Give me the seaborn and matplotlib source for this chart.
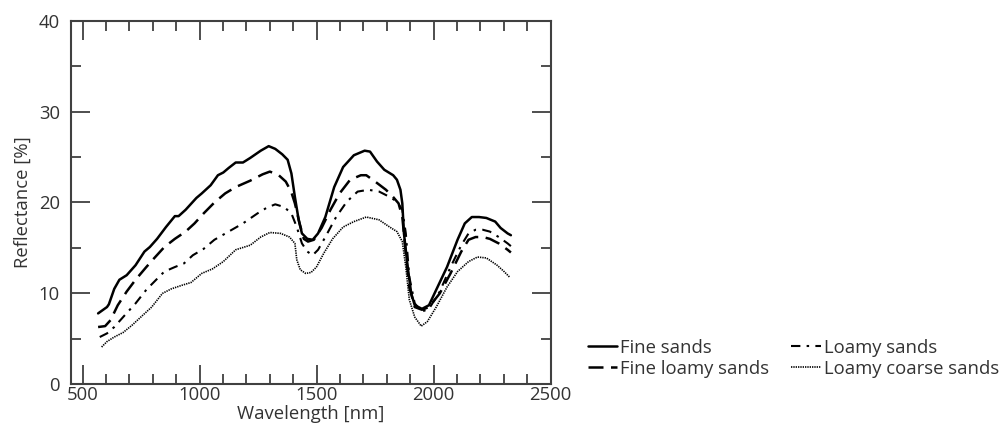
import numpy as np
import pandas as pd
import seaborn as sns
import matplotlib
matplotlib.use("Agg")
import matplotlib.pyplot as plt
from matplotlib.ticker import MultipleLocator

# Soil reflectance spectra, wavelength in nm, reflectance in %
fine_sands_wl = [566, 604, 612, 635, 657, 688, 726, 764, 787, 818, 856, 894, 910, 940,
                 986, 1009, 1047, 1078, 1101, 1124, 1154, 1185, 1216, 1261, 1295, 1323,
                 1353, 1376, 1392, 1407, 1423, 1437, 1460, 1483, 1506, 1537, 1575, 1613,
                 1659, 1705, 1728, 1758, 1789, 1827, 1843, 1858, 1866, 1873, 1889, 1904,
                 1919, 1950, 1980, 2011, 2057, 2102, 2133, 2163, 2194, 2225, 2263, 2286,
                 2316, 2330]
fine_sands = [7.8, 8.5, 8.8, 10.5, 11.5, 12.0, 13.1, 14.6, 15.1, 16.0, 17.3, 18.5, 18.5,
              19.2, 20.5, 21.0, 21.9, 23.0, 23.3, 23.8, 24.4, 24.4, 24.9, 25.7, 26.2,
              25.9, 25.3, 24.7, 23.2, 20.6, 18.1, 16.6, 16.0, 15.9, 16.6, 18.4, 21.7,
              23.9, 25.2, 25.7, 25.6, 24.5, 23.6, 23.0, 22.5, 21.4, 19.9, 16.6, 12.9,
              10.0, 8.7, 8.3, 8.7, 10.4, 12.9, 15.9, 17.7, 18.4, 18.4, 18.3, 17.9, 17.2,
              16.6, 16.4]

fine_loamy_wl = [566, 596, 619, 650, 688, 726, 772, 803, 849, 894, 940, 978, 1017, 1063,
                 1109, 1154, 1216, 1269, 1300, 1338, 1368, 1391, 1407, 1427, 1445, 1463,
                 1488, 1521, 1559, 1598, 1643, 1689, 1712, 1750, 1796, 1827, 1850, 1866,
                 1881, 1896, 1919, 1950, 1980, 2026, 2072, 2118, 2149, 2179, 2210, 2240,
                 2278, 2316, 2330]
fine_loamy_sands = [6.3, 6.4, 7.05, 8.7, 10.2, 11.5, 12.9, 13.8, 15.1, 16.0, 16.8, 17.7,
                    18.8, 20.0, 21.0, 21.7, 22.4, 23.1, 23.4, 23.0, 22.3, 21.2, 19.9, 17.7,
                    16.0, 15.7, 15.9, 17.2, 19.2, 21.0, 22.5, 23.0, 23.0, 22.3, 21.4, 20.6,
                    19.9, 18.4, 14.4, 10.7, 8.5, 8.2, 8.5, 10.0, 12.2, 14.6, 15.9, 16.2,
                    16.2, 16.0, 15.5, 14.8, 14.5]

loamy_wl = [573, 604, 635, 680, 726, 772, 818, 849, 894, 933, 971, 1017, 1063, 1124, 1185,
            1247, 1285, 1323, 1361, 1392, 1415, 1437, 1460, 1483, 1506, 1537, 1583, 1629,
            1675, 1721, 1767, 1813, 1843, 1866, 1881, 1896, 1919, 1950, 1980, 2026, 2072,
            2118, 2149, 2179, 2210, 2240, 2278, 2316, 2330]
loamy_sands = [5.2, 5.6, 6.3, 7.6, 8.9, 10.4, 11.6, 12.4, 12.9, 13.3, 14.2, 14.9, 15.9,
               16.8, 17.7, 18.8, 19.4, 19.8, 19.5, 18.8, 17.3, 15.5, 14.6, 14.2, 14.8,
               16.2, 18.4, 20.1, 21.2, 21.4, 21.2, 20.6, 20.1, 19.2, 16.6, 11.8, 8.9, 8.0,
               8.3, 10.2, 12.9, 15.3, 16.6, 17.0, 17.0, 16.8, 16.2, 15.5, 15.2]

loamy_coarse_wl = [581, 604, 635, 673, 711, 757, 795, 841, 879, 925, 963, 1009, 1055, 1101,
                   1154, 1216, 1261, 1300, 1346, 1384, 1407, 1415, 1430, 1453, 1476, 1499,
                   1530, 1568, 1613, 1659, 1712, 1766, 1812, 1843, 1866, 1881, 1896, 1919,
                   1947, 1973, 2011, 2057, 2102, 2149, 2187, 2225, 2271, 2301, 2324]
loamy_coarse_sands = [4.1, 4.7, 5.2, 5.7, 6.5, 7.6, 8.5, 10.0, 10.5, 10.9, 11.2, 12.2,
                      12.7, 13.5, 14.8, 15.3, 16.2, 16.7, 16.6, 16.2, 15.5, 13.7, 12.6,
                      12.2, 12.3, 12.9, 14.4, 16.0, 17.3, 17.9, 18.4, 18.1, 17.3, 16.8,
                      15.7, 12.9, 9.3, 7.4, 6.4, 6.9, 8.5, 10.7, 12.4, 13.5, 14.0, 13.9,
                      13.1, 12.4, 11.8]

labels = ["Fine sands", "Fine loamy sands", "Loamy sands", "Loamy coarse sands"]
wavelengths = [fine_sands_wl, fine_loamy_wl, loamy_wl, loamy_coarse_wl]
reflectances = [fine_sands, fine_loamy_sands, loamy_sands, loamy_coarse_sands]

sns.set_theme(style="ticks")
plt.rcParams["font.family"] = ["Open Sans", "DejaVu Sans"]
FS = 13.3

TEXT = "#333333"
EDGE = "#404040"

line_styles = [
    dict(linestyle="-", linewidth=1.8),
    dict(linestyle=(0, (6.0, 3.0)), linewidth=1.8),
    dict(linestyle=(0, (4.5, 3.0, 1.2, 3.0)), linewidth=1.5),
    dict(linestyle=(0, (0.8, 0.6)), linewidth=1.2),
]

fig = plt.figure(figsize=(10.08, 4.26), dpi=100)
ax = fig.add_axes([0.0704, 0.0979, 0.4759, 0.8535])

handles = []
for wl, refl, lab, st in zip(wavelengths, reflectances, labels, line_styles):
    df = pd.DataFrame({"Wavelength": wl, "Reflectance": refl})
    sns.lineplot(data=df, x="Wavelength", y="Reflectance", ax=ax, color="black",
                 estimator=None, sort=False, **st)
    handles.append(ax.lines[-1])

ax.set_xlim(450, 2500)
ax.set_ylim(0, 40)
ax.xaxis.set_major_locator(MultipleLocator(500))
ax.xaxis.set_minor_locator(MultipleLocator(100))
ax.yaxis.set_major_locator(MultipleLocator(10))
ax.yaxis.set_minor_locator(MultipleLocator(5))
ax.tick_params(which="both", direction="in", top=True, right=True,
               color=EDGE, labelcolor=TEXT, labelsize=FS)
ax.tick_params(axis="x", which="both", pad=1.5)
ax.tick_params(axis="y", which="both", pad=8)
ax.tick_params(which="major", length=14, width=1.3)
ax.tick_params(which="minor", length=7, width=1.3)
for sp in ax.spines.values():
    sp.set_color(EDGE)
    sp.set_linewidth(1.5)

ax.set_xlabel("Wavelength [nm]", color=TEXT, fontsize=FS, labelpad=0.5)
ax.set_ylabel("Reflectance [%]", color=TEXT, fontsize=FS, labelpad=5)

fig.legend(handles, labels, ncol=2, frameon=False, loc="center left",
           bbox_to_anchor=(0.574, 0.159), handlelength=1.6, handletextpad=0.15,
           columnspacing=1.2, labelspacing=0.15, borderpad=0, fontsize=FS,
           labelcolor=TEXT)

fig.savefig("out.png", dpi=100)
